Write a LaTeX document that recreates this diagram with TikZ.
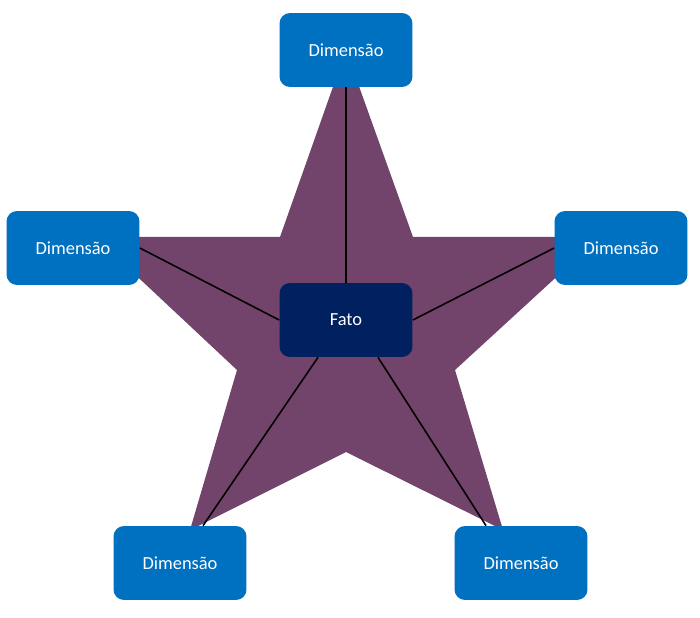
\documentclass[tikz,border=0pt]{standalone}
\usepackage{fontspec}
\setmainfont{Carlito}
\usetikzlibrary{calc}
\definecolor{starpurple}{HTML}{72446C}
\definecolor{dimblue}{HTML}{0070C0}
\definecolor{fatonavy}{HTML}{002060}
\tikzset{
  dimbox/.style={fill=dimblue, rounded corners=6pt, minimum width=2.66cm, minimum height=1.48cm,
    text=white, font=\fontsize{10.5}{12}\selectfont, inner sep=0pt},
  fatobox/.style={dimbox, fill=fatonavy},
  link/.style={draw=black, line width=0.9pt}
}
\begin{document}
\begin{tikzpicture}[x=0.02cm, y=-0.02cm]
\useasboundingbox (0,0) rectangle (700,618);
% estrela
\fill [starpurple] (346,50) -- (413,237) -- (600,237) -- (455,370) -- (503,530)
  -- (346,452) -- (190,530) -- (237,370) -- (95,237) -- (280,237) -- cycle;
\node [fatobox] (fato) at (346,320) {Fato};
\node [dimbox] (dtop) at (346,50) {Dimensão};
\node [dimbox] (dleft) at (73,248) {Dimensão};
\node [dimbox] (dright) at (621,248) {Dimensão};
\node [dimbox] (dbl) at (180,563) {Dimensão};
\node [dimbox] (dbr) at (521,563) {Dimensão};
\draw [link] (fato.north) -- (dtop.south);
\draw [link] (fato.west) -- (dleft.east);
\draw [link] (fato.east) -- (dright.west);
\draw [link] ($(fato.south)+(-28,0)$) -- ($(dbl.north)+(23,0)$);
\draw [link] ($(fato.south)+(32,0)$) -- ($(dbr.north)+(-35,0)$);
\end{tikzpicture}
\end{document}
